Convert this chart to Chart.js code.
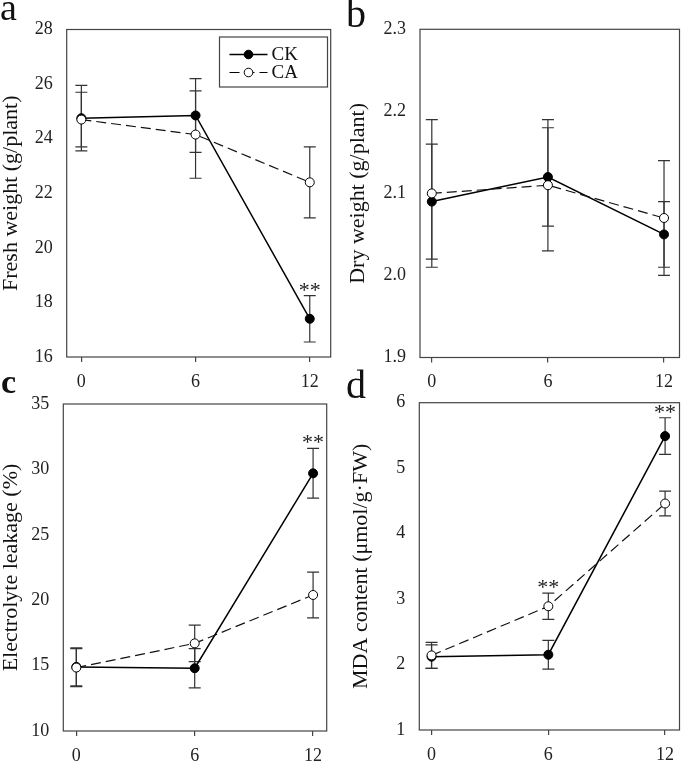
<!DOCTYPE html>
<html><head><meta charset="utf-8">
<script src="https://cdn.jsdelivr.net/npm/chart.js@4.4.1/dist/chart.umd.min.js"></script>
<style>
html,body{margin:0;padding:0;background:#fff;width:685px;height:762px;overflow:hidden}
canvas{position:absolute;left:0;top:0}
</style></head><body>
<canvas id="pa" width="685" height="762"></canvas>
<canvas id="pb" width="685" height="762"></canvas>
<canvas id="pc" width="685" height="762"></canvas>
<canvas id="pd" width="685" height="762"></canvas>
<script>
// ---------- data ----------
const hours = [0, 6, 12];
const seriesNames = ['CK', 'CA'];
const panelLetters = ['a', 'b', 'c', 'd'];
const yTitles = ['Fresh weight (g/plant)', 'Dry weight (g/plant)', 'Electrolyte leakage (%)', 'MDA content (\u03bcmol/g\u00b7FW)'];

const freshCK = [24.75, 24.85, 17.4];
const freshCKErr = [1.2, 1.35, 0.85];
const freshCA = [24.7, 24.15, 22.4];
const freshCAErr = [1.0, 1.6, 1.3];
const freshCKSig = ['', '', '**'];
const freshCASig = ['', '', ''];
const freshTicks = [16, 18, 20, 22, 24, 26, 28];

const dryCK = [2.09, 2.12, 2.05];
const dryCKErr = [0.07, 0.06, 0.04];
const dryCA = [2.10, 2.11, 2.07];
const dryCAErr = [0.09, 0.08, 0.07];
const dryCKSig = ['', '', ''];
const dryCASig = ['', '', ''];
const dryTicks = [1.9, 2.0, 2.1, 2.2, 2.3];

const elCK = [14.9, 14.8, 29.7];
const elCKErr = [1.45, 1.5, 1.9];
const elCA = [14.85, 16.7, 20.4];
const elCAErr = [1.45, 1.4, 1.75];
const elCKSig = ['', '', '**'];
const elCASig = ['', '', ''];
const elTicks = [10, 15, 20, 25, 30, 35];

const mdaCK = [2.12, 2.15, 5.49];
const mdaCKErr = [0.18, 0.22, 0.28];
const mdaCA = [2.14, 2.89, 4.46];
const mdaCAErr = [0.2, 0.2, 0.19];
const mdaCKSig = ['', '', '**'];
const mdaCASig = ['', '**', ''];
const mdaTicks = [1, 2, 3, 4, 5, 6];

// ---------- drawing ----------
const SERIF = '"Liberation Serif", "Times New Roman", serif';

const decorPlugin = {
  id: 'decor',
  beforeDatasetsDraw(chart) {
    const {ctx, scales: {x, y}} = chart;
    chart.data.datasets.forEach(ds => {
      ctx.save();
      ctx.strokeStyle = '#333';
      ctx.lineWidth = 1.2;
      ds.data.forEach((p, i) => {
        const e = ds.errors[i];
        const px = x.getPixelForValue(p.x);
        const t = y.getPixelForValue(p.y + e), b = y.getPixelForValue(p.y - e);
        ctx.beginPath();
        ctx.moveTo(px, t); ctx.lineTo(px, b);
        ctx.moveTo(px - 6, t); ctx.lineTo(px + 6, t);
        ctx.moveTo(px - 6, b); ctx.lineTo(px + 6, b);
        ctx.stroke();
      });
      ctx.restore();
    });
  },
  afterDraw(chart, args, opts) {
    const {ctx, chartArea: a, scales: {x, y}} = chart;
    ctx.save();
    // box
    ctx.strokeStyle = '#444';
    ctx.lineWidth = 1.2;
    ctx.strokeRect(a.left, a.top, a.right - a.left, a.bottom - a.top);
    // significance marks
    ctx.fillStyle = '#222';
    ctx.font = '22px ' + SERIF;
    ctx.textAlign = 'center';
    ctx.textBaseline = 'alphabetic';
    chart.data.datasets.forEach(ds => {
      ds.data.forEach((p, i) => {
        if (ds.sig[i]) {
          const px = x.getPixelForValue(p.x);
          const t = y.getPixelForValue(p.y + ds.errors[i]);
          ctx.fillText(ds.sig[i], px, t + 1);
        }
      });
    });
    // panel letter
    ctx.textAlign = 'left';
    ctx.font = (opts.letterBold ? 'bold ' : '') + opts.letterSize + 'px ' + SERIF;
    ctx.fillStyle = '#111';
    ctx.fillText(opts.letter, opts.letterX, opts.letterY);
    // legend
    if (opts.legend) {
      const L = opts.legend;
      ctx.strokeStyle = '#444';
      ctx.lineWidth = 1.2;
      ctx.strokeRect(L.x, L.y, L.w, L.h);
      ctx.font = '19px ' + SERIF;
      ctx.textBaseline = 'middle';
      chart.data.datasets.forEach((ds, k) => {
        const ry = L.y + L.row0 + k * L.rowGap;
        ctx.strokeStyle = '#000';
        ctx.lineWidth = ds.borderWidth;
        ctx.setLineDash(ds.borderDash || []);
        ctx.beginPath();
        ctx.moveTo(L.x + 10, ry); ctx.lineTo(L.x + 48, ry);
        ctx.stroke();
        ctx.setLineDash([]);
        ctx.beginPath();
        ctx.arc(L.x + 29, ry, 4.3, 0, Math.PI * 2);
        ctx.fillStyle = ds.pointBackgroundColor;
        ctx.fill();
        ctx.lineWidth = 1;
        ctx.stroke();
        ctx.fillStyle = '#111';
        ctx.fillText(ds.label, L.x + 52, ry + 1);
      });
    }
    ctx.restore();
  }
};

function makePanel(id, idx, ck, ckErr, ckSig, ca, caErr, caSig, yTicks, layout) {
  const toPts = v => hours.map((h, i) => ({x: h, y: v[i]}));
  return new Chart(document.getElementById(id), {
    type: 'line',
    data: {
      datasets: [
        {label: seriesNames[0], data: toPts(ck), errors: ckErr, sig: ckSig, order: 1,
         borderColor: '#000', borderWidth: 1.5, pointRadius: 4.5, pointBorderWidth: 1,
         pointBackgroundColor: '#000', pointBorderColor: '#000', tension: 0},
        {label: seriesNames[1], data: toPts(ca), errors: caErr, sig: caSig, order: 0,
         borderColor: '#111', borderWidth: 1.2, borderDash: [10, 5], pointRadius: 4.5, pointBorderWidth: 1,
         pointBackgroundColor: '#fff', pointBorderColor: '#000', tension: 0}
      ]
    },
    options: {
      responsive: false, animation: false, devicePixelRatio: 1,
      events: [],
      layout: {padding: layout.pad},
      plugins: {
        legend: {display: false}, tooltip: {enabled: false},
        decor: layout.decor
      },
      scales: {
        x: {
          type: 'linear', min: layout.xMin, max: layout.xMax,
          afterBuildTicks: s => { s.ticks = hours.map(v => ({value: v})); },
          afterFit: s => { s.height = layout.xH; },
          grid: {display: true, drawOnChartArea: false, drawTicks: true, tickLength: 5, color: '#444', lineWidth: 1.2},
          border: {display: false},
          ticks: {font: {family: SERIF, size: 18}, color: '#222', padding: 9, maxRotation: 0}
        },
        y: {
          type: 'linear', min: yTicks[0], max: yTicks[yTicks.length - 1],
          afterBuildTicks: s => { s.ticks = yTicks.map(v => ({value: v})); },
          afterFit: s => { s.width = layout.yW; },
          grid: {display: false, drawTicks: false},
          border: {display: false},
          ticks: {font: {family: SERIF, size: 18}, color: '#222', padding: 14,
                  callback: v => layout.yDec ? v.toFixed(layout.yDec) : String(v)},
          title: {display: true, text: yTitles[idx], color: '#111', padding: 0,
                  font: {family: SERIF, size: 22, lineHeight: 1}}
        }
      }
    },
    plugins: [decorPlugin]
  });
}

makePanel('pa', 0, freshCK, freshCKErr, freshCKSig, freshCA, freshCAErr, freshCASig, freshTicks, {
  pad: {left: 0, top: 29.5, right: 354.3, bottom: 365}, xH: 40, yW: 66.7, xMin: -0.77, xMax: 13.1, yDec: 0,
  decor: {letter: panelLetters[0], letterX: 0, letterY: 20, letterSize: 38,
          legend: {x: 219.5, y: 37, w: 108, h: 50, row0: 17.5, rowGap: 18}}
});
makePanel('pb', 1, dryCK, dryCKErr, dryCKSig, dryCA, dryCAErr, dryCASig, dryTicks, {
  pad: {left: 347, top: 29.3, right: 2, bottom: 364.5}, xH: 40, yW: 73, xMin: -0.61, xMax: 12.8, yDec: 1,
  decor: {letter: panelLetters[1], letterX: 346, letterY: 27, letterSize: 40}
});
makePanel('pc', 2, elCK, elCKErr, elCKSig, elCA, elCAErr, elCASig, elTicks, {
  pad: {left: 0, top: 404, right: 358.3, bottom: 0}, xH: 31, yW: 63.3, xMin: -0.66, xMax: 12.69, yDec: 0,
  decor: {letter: panelLetters[2], letterX: 1, letterY: 393, letterSize: 34, letterBold: true}
});
makePanel('pd', 3, mdaCK, mdaCKErr, mdaCKSig, mdaCA, mdaCAErr, mdaCASig, mdaTicks, {
  pad: {left: 350.5, top: 402.7, right: 1, bottom: 0}, xH: 32, yW: 68.8, xMin: -0.63, xMax: 12.74, yDec: 0,
  decor: {letter: panelLetters[3], letterX: 346, letterY: 398, letterSize: 40}
});
</script>
</body></html>
